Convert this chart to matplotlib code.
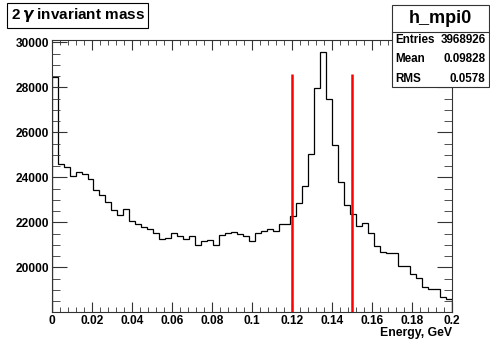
import numpy as np
import matplotlib
matplotlib.use('Agg')
import matplotlib.pyplot as plt
from matplotlib.ticker import MultipleLocator

plt.rcParams['font.family'] = ['Liberation Sans', 'DejaVu Sans']
plt.rcParams['font.weight'] = 'bold'

# histogram h_mpi0: 67 bins on [0, 0.2] GeV, contents
n_bins = 67
e_min, e_max = 0.0, 0.2
counts = [28470, 24578, 24471, 24058, 24249, 24133, 23911, 23422, 23213, 22889,
          22547, 22324, 22578, 22071, 21930, 21807, 21702, 21511, 21244, 21289,
          21511, 21404, 21244, 21404, 20991, 21182, 21213, 20991, 21436, 21511,
          21556, 21467, 21404, 21169, 21511, 21627, 21702, 21613, 21924, 21924,
          22270, 22860, 23630, 25022, 27956, 29582, 27467, 25436, 23804, 22780,
          22360, 21836, 21955, 21538, 20947, 20693, 20649, 20630, 20071, 20071,
          19702, 19511, 19111, 19036, 19036, 18693, 18591]
cut_lo, cut_hi = 0.12, 0.15
cut_top = 28600

stats_name = 'h_mpi0'
stats_rows = [('Entries', '3968926'), ('Mean', '0.09828'), ('RMS', '0.0578')]

edges = np.linspace(e_min, e_max, n_bins + 1)

fig = plt.figure(figsize=(4.9, 3.39), dpi=100)
ax = fig.add_axes([0.1055, 0.0805, 0.8163, 0.8015])

ax.stairs(counts, edges, color='k', lw=0.9)
ax.vlines([cut_lo, cut_hi], 18030, cut_top, colors='red', lw=1.8)

ax.set_xlim(0, 0.2)
ax.set_ylim(18030, 30100)

ax.xaxis.set_minor_locator(MultipleLocator(0.004))
ax.yaxis.set_major_locator(MultipleLocator(2000))
ax.yaxis.set_minor_locator(MultipleLocator(500))
ax.set_xticks(np.arange(0, 0.2001, 0.02))
ax.set_xticklabels(['0', '0.02', '0.04', '0.06', '0.08', '0.1', '0.12', '0.14',
                    '0.16', '0.18', '0.2'])
ax.tick_params(which='both', direction='in', top=True, right=True,
               labelsize=8.6, colors='#333333', labelcolor='k')
ax.tick_params(axis='x', which='major', length=7, pad=2.5)
ax.tick_params(axis='x', which='minor', length=3.5)
ax.tick_params(axis='y', which='major', length=11, pad=2)
ax.tick_params(axis='y', which='minor', length=5.5)
for s in ax.spines.values():
    s.set_linewidth(0.8)
    s.set_color('#333333')

ax.set_xlabel('Energy, GeV', fontsize=8.8, fontweight='bold', loc='right', labelpad=0)

# title box
fig.text(0.0215, 0.955, '2$\\,\\gamma$ invariant mass', fontsize=11, fontweight='bold',
         va='center', ha='left',
         bbox=dict(boxstyle='square,pad=0.22', fc='white', ec='k', lw=0.8))

# stats box
bx0, bx1 = 391.7 / 490, 488.5 / 490
by_top, by_sep, by_bot = 1 - 5 / 339, 1 - 31.7 / 339, 1 - 87.3 / 339
fig.patches.append(plt.Rectangle((bx0, by_bot), bx1 - bx0, by_top - by_bot,
                                 transform=fig.transFigure, fc='white', ec='#333333',
                                 lw=0.8, zorder=5))
fig.lines.append(plt.Line2D([bx0, bx1], [by_sep, by_sep], transform=fig.transFigure,
                            color='#333333', lw=0.8, zorder=6))
fig.text((bx0 + bx1) / 2, 1 - 18.5 / 339, stats_name, fontsize=13, fontweight='bold',
         ha='center', va='center', zorder=7)
row_y = [40, 59, 79.5]
for (lab, val), yy in zip(stats_rows, row_y):
    fig.text(bx0 + 0.008, 1 - yy / 339, lab, fontsize=8.4, fontweight='bold',
             ha='left', va='center', zorder=7)
    fig.text(bx1 - 0.006, 1 - yy / 339, val, fontsize=8.4, fontweight='bold',
             ha='right', va='center', zorder=7)

fig.savefig('out.png', dpi=100)
